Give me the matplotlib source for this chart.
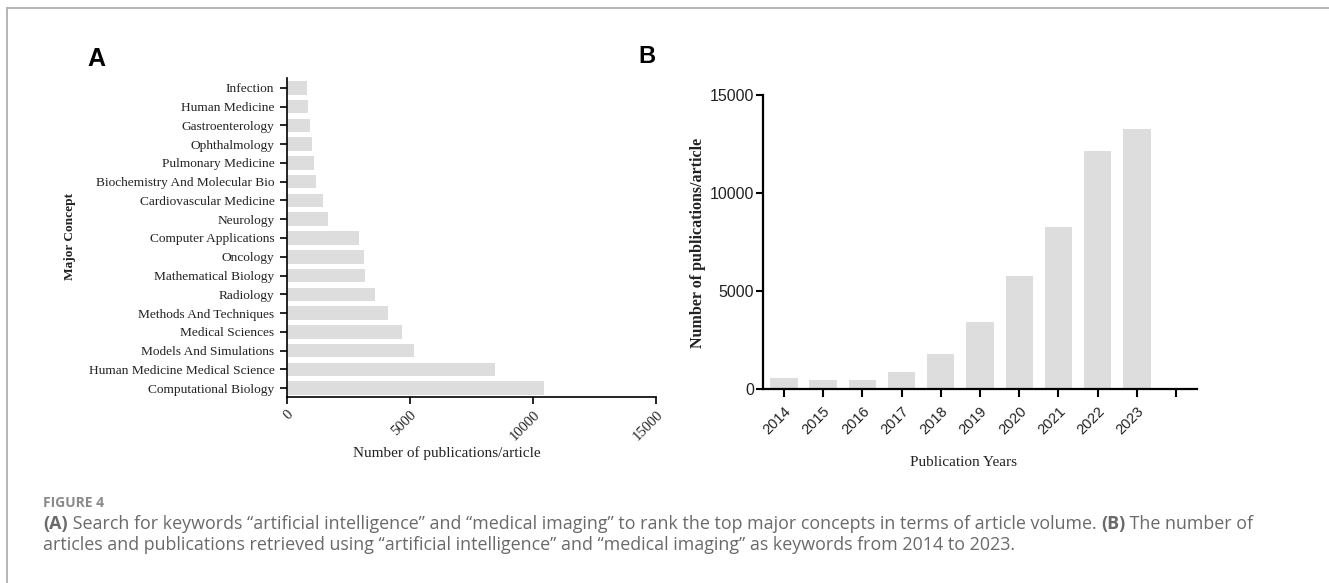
import numpy as np
import matplotlib
matplotlib.use("Agg")
import matplotlib.pyplot as plt
from matplotlib.lines import Line2D

# panel A data (top to bottom as drawn)
concepts = ["Infection", "Human Medicine", "Gastroenterology", "Ophthalmology",
            "Pulmonary Medicine", "Biochemistry And Molecular Bio",
            "Cardiovascular Medicine", "Neurology", "Computer Applications",
            "Oncology", "Mathematical Biology", "Radiology",
            "Methods And Techniques", "Medical Sciences",
            "Models And Simulations", "Human Medicine Medical Science",
            "Computational Biology"]
concept_counts = [830, 850, 950, 1000, 1110, 1170, 1460, 1680, 2910,
                  3130, 3160, 3580, 4110, 4690, 5160, 8460, 10450]
a_xticks = [0, 5000, 10000, 15000]

# panel B data
years = ["2014", "2015", "2016", "2017", "2018", "2019", "2020", "2021", "2022", "2023"]
year_counts = [580, 460, 460, 880, 1770, 3400, 5780, 8250, 12140, 13280]
b_yticks = [0, 5000, 10000, 15000]

W, H = 1329, 583
fig = plt.figure(figsize=(W / 100, H / 100), dpi=100)
serif = "Liberation Serif"
sans = "Liberation Sans"
bar_col = "#dddddd"


def fx(px):
    return px / W


def fy(py):
    return 1 - py / H


# ---- panel A
axA = fig.add_axes([fx(287), fy(397), fx(656 - 287), (397 - 78) / H])
ypos = np.arange(len(concepts))[::-1]
axA.barh(ypos, concept_counts, height=0.72, color=bar_col)
axA.set_ylim(-0.47, len(concepts) - 0.48)
axA.set_xlim(0, 15000)
axA.set_yticks(ypos)
axA.set_yticklabels(concepts, fontfamily=serif, fontsize=9.6, color="#222222")
axA.set_xticks(a_xticks)
axA.set_xticklabels([str(v) for v in a_xticks], fontfamily=serif, fontsize=10.5,
                    rotation=45, ha="right", va="top", rotation_mode="anchor",
                    color="#222222")
axA.tick_params(axis="y", length=5, width=1.2, pad=4)
axA.tick_params(axis="x", length=5, width=1.2, pad=3)
for s in ["top", "right"]:
    axA.spines[s].set_visible(False)
for s in ["left", "bottom"]:
    axA.spines[s].set_linewidth(1.2)
axA.set_xlabel("Number of publications/article", fontfamily=serif, fontsize=11,
               va="center", ha="center", color="#222222")
axA.xaxis.set_label_coords((447 - 287) / (656 - 287), -(453 - 397) / (397 - 78))
axA.set_ylabel("Major Concept", fontfamily=serif, fontsize=9.6, fontweight="bold",
               va="center", ha="center", color="#222222")
axA.yaxis.set_label_coords((70 - 287) / (656 - 287), (397 - 236) / (397 - 78))

# ---- panel B
axB = fig.add_axes([fx(763), fy(389), fx(1197 - 763), (389 - 95) / H])
xpos = np.arange(len(years))
axB.bar(xpos, year_counts, width=0.7, color=bar_col)
axB.set_xlim(-0.53, len(years) + 0.53)
axB.set_ylim(0, 15000)
axB.set_xticks(np.arange(len(years) + 1))
axB.set_xticklabels(years + [""], fontfamily=sans, fontsize=10.5, rotation=45,
                    ha="right", va="top", rotation_mode="anchor", color="#222222")
axB.set_yticks(b_yticks)
axB.set_yticklabels([str(v) for v in b_yticks], fontfamily=sans, fontsize=11.5,
                    color="#222222")
axB.tick_params(axis="x", length=6, width=1.5, pad=5)
axB.tick_params(axis="y", length=5, width=1.5, pad=1.5)
for s in ["top", "right"]:
    axB.spines[s].set_visible(False)
for s in ["left", "bottom"]:
    axB.spines[s].set_linewidth(1.6)
axB.set_xlabel("Publication Years", fontfamily=serif, fontsize=11,
               va="center", ha="center", color="#222222")
axB.xaxis.set_label_coords((964 - 763) / (1197 - 763), -(463 - 389) / (389 - 95))
axB.set_ylabel("Number of publications/article", fontfamily=serif, fontsize=11.5,
               fontweight="bold", va="center", ha="center", color="#222222")
axB.yaxis.set_label_coords((698 - 763) / (1197 - 763), (389 - 243) / (389 - 95))

# panel letters
fig.text(fx(87), fy(66), "A", fontfamily=sans, fontweight="bold", fontsize=18,
         ha="left", va="baseline")
fig.text(fx(638), fy(63), "B", fontfamily=sans, fontweight="bold", fontsize=17,
         ha="left", va="baseline")

# frame lines
fig.add_artist(Line2D([fx(7), 1], [fy(8), fy(8)], color="#b0b0b0", lw=1.3))
fig.add_artist(Line2D([fx(7), fx(7)], [fy(8), 0], color="#b0b0b0", lw=1.3))

# caption
cap_font = "Open Sans"
cap_col = "#6a6a6a"
fig.text(fx(43), fy(503), "FIGURE 4", fontfamily=cap_font, fontsize=10,
         color="#8a8a8a", fontweight="bold", va="center", ha="left")

renderer = fig.canvas.get_renderer()


def write_line(segments, x0, y0, size):
    x = x0
    for txt, bold in segments:
        t = fig.text(fx(x), fy(y0), txt, fontfamily=cap_font, fontsize=size,
                     color=cap_col, fontweight="bold" if bold else "normal",
                     va="center", ha="left")
        bb = t.get_window_extent(renderer=renderer)
        x += bb.width
    return x


line1 = [("(A)", True),
         (" Search for keywords \u201cartificial intelligence\u201d and \u201cmedical imaging\u201d "
          "to rank the top major concepts in terms of article volume. ", False),
         ("(B)", True), (" The number of", False)]
line2 = [("articles and publications retrieved using \u201cartificial intelligence\u201d and "
          "\u201cmedical imaging\u201d as keywords from 2014 to 2023.", False)]
write_line(line1, 43, 524, 12.9)
write_line(line2, 43, 545, 12.9)

fig.savefig("out.png", dpi=100)
